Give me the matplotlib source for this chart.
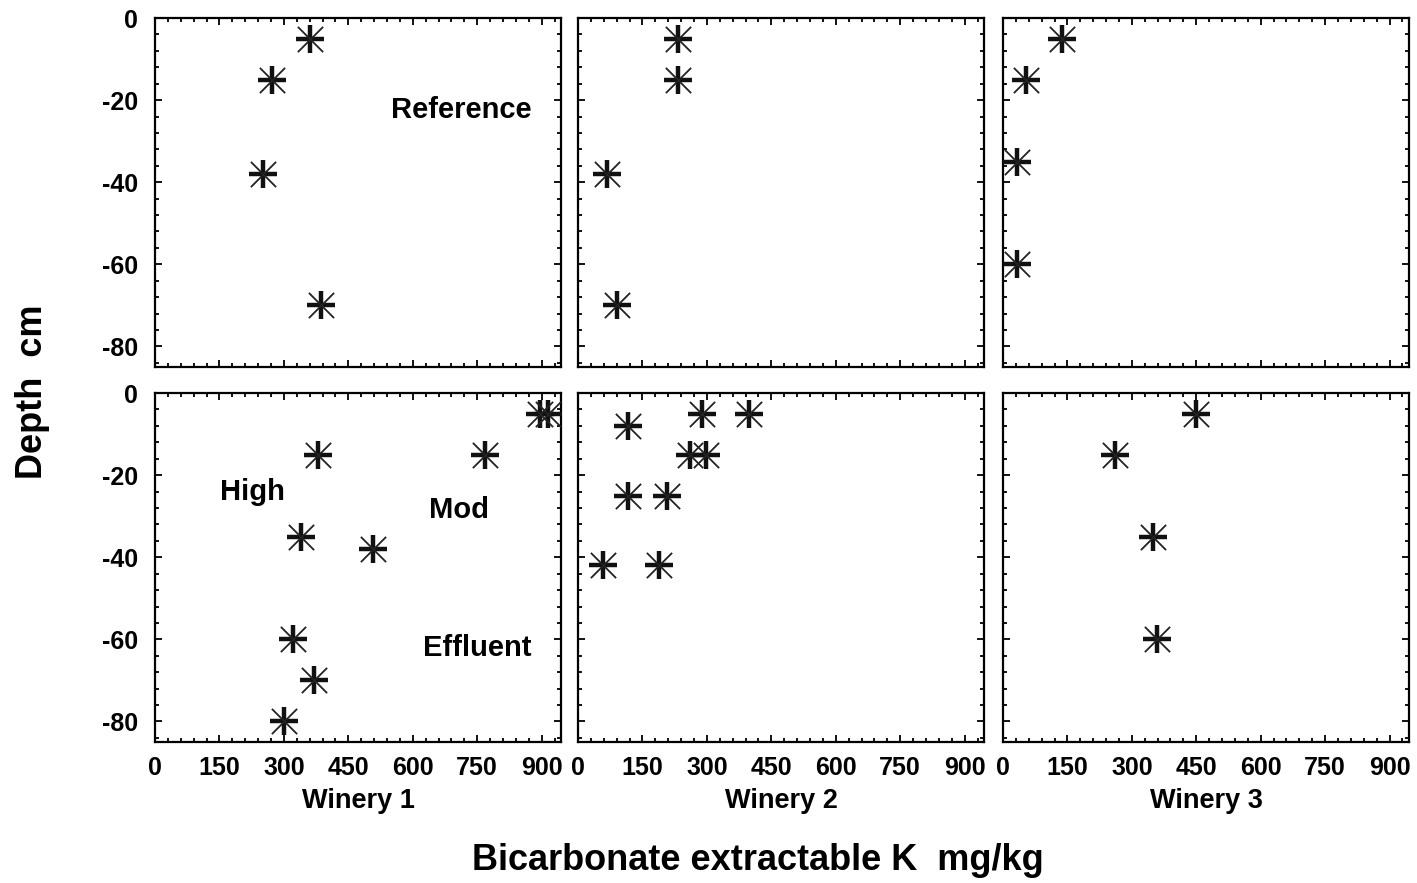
import numpy as np
import matplotlib.pyplot as plt
from matplotlib.ticker import MultipleLocator

plt.rcParams['font.family'] = ['Liberation Sans', 'DejaVu Sans']
plt.rcParams['font.weight'] = 'bold'
plt.rcParams['axes.unicode_minus'] = False

# top row: reference sites ; bottom row: effluent sites
ref_w1_k = [360, 272, 252, 386]
ref_w1_d = [-5, -15, -38, -70]
ref_w2_k = [232, 232, 67, 90]
ref_w2_d = [-5, -15, -38, -70]
ref_w3_k = [137, 53, 33, 33]
ref_w3_d = [-5, -15, -35, -60]

eff_w1_k = [895, 915, 379, 767, 340, 507, 321, 370, 300]
eff_w1_d = [-5, -5, -15, -15, -35, -38, -60, -70, -80]
eff_w2_k = [288, 398, 116, 260, 298, 116, 207, 58, 188]
eff_w2_d = [-5, -5, -8, -15, -15, -25, -25, -42, -42]
eff_w3_k = [449, 260, 349, 358]
eff_w3_d = [-5, -15, -35, -60]

wineries = ['Winery 1', 'Winery 2', 'Winery 3']
xticks = [0, 150, 300, 450, 600, 750, 900]
yticks = [0, -20, -40, -60, -80]

data = [[(ref_w1_k, ref_w1_d), (ref_w2_k, ref_w2_d), (ref_w3_k, ref_w3_d)],
        [(eff_w1_k, eff_w1_d), (eff_w2_k, eff_w2_d), (eff_w3_k, eff_w3_d)]]

fig = plt.figure(figsize=(14.17, 8.83), dpi=100)
lefts = [0.1094, 0.4079, 0.7078]
width = 0.2865
bottoms = [0.5844, 0.1597]
height = 0.3952

axes = []
for r in range(2):
    for c in range(3):
        ax = fig.add_axes([lefts[c], bottoms[r], width, height])
        k, d = data[r][c]
        ax.scatter(k, d, marker='+', s=420, linewidths=3.2, color='#111111', zorder=3, clip_on=False)
        ax.scatter(k, d, marker='x', s=330, linewidths=1.3, color='#222222', zorder=3, clip_on=False)
        ax.set_xlim(0, 945)
        ax.set_ylim(-85, 0)
        ax.set_xticks(xticks)
        ax.set_yticks(yticks)
        ax.xaxis.set_minor_locator(MultipleLocator(30))
        ax.yaxis.set_minor_locator(MultipleLocator(4))
        ax.tick_params(which='both', direction='in', top=True, right=True, labelsize=18, width=1.3)
        ax.tick_params(which='major', length=5)
        ax.tick_params(which='minor', length=3)
        ax.tick_params(axis='x', pad=10)
        ax.tick_params(axis='y', pad=12)
        for s in ax.spines.values():
            s.set_linewidth(1.6)
        if r == 0:
            ax.set_xticklabels([])
        else:
            ax.set_xlabel(wineries[c], fontsize=19.5, fontweight='bold', labelpad=6)
        if c != 0:
            ax.set_yticklabels([])
        axes.append(ax)

axes[0].text(714, -22.4, 'Reference', fontsize=21, fontweight='bold', ha='center', va='center')
axes[3].text(227, -24, 'High', fontsize=21, fontweight='bold', ha='center', va='center')
axes[3].text(707, -28.5, 'Mod', fontsize=21, fontweight='bold', ha='center', va='center')
axes[3].text(750, -62, 'Effluent', fontsize=21, fontweight='bold', ha='center', va='center')

fig.text(0.023, 0.556, 'Depth  cm', rotation=90, fontsize=26, fontweight='bold', ha='center', va='center')
fig.text(0.535, 0.025, 'Bicarbonate extractable K  mg/kg', fontsize=26, fontweight='bold', ha='center', va='center')

fig.savefig('out.png', dpi=100)
